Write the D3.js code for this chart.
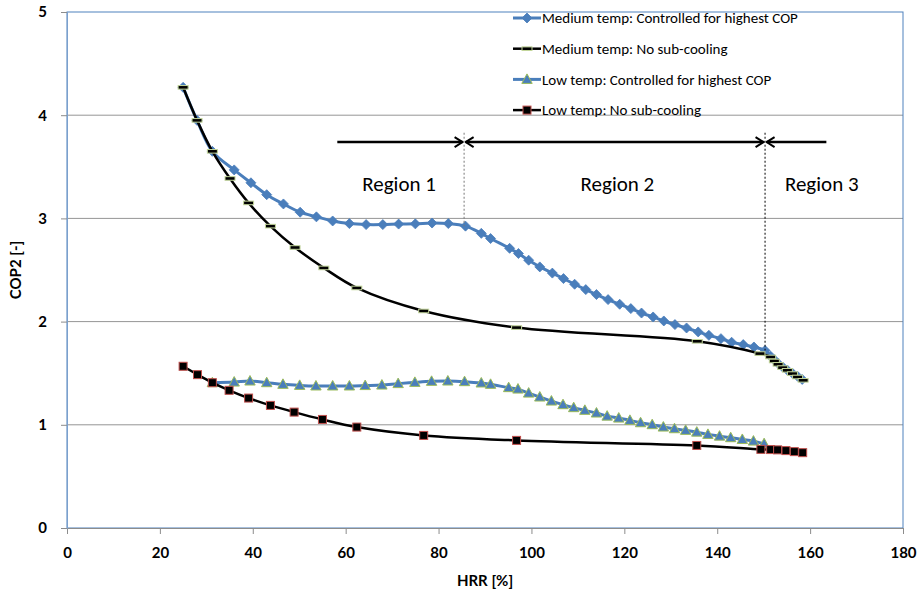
<!DOCTYPE html>
<html>
<head>
<meta charset="utf-8">
<script src="https://cdn.jsdelivr.net/npm/d3@7"></script>
<style>
  body { margin: 0; background: #fff; }
  text { font-family: Carlito, Calibri, Lato, sans-serif; }
  text.bold { font-family: Lato, Carlito, sans-serif; font-weight: 700; }
</style>
</head>
<body>
<div id="chart"></div>
<script>
// Medium temp: Controlled for highest COP
const medCtrlX = [25, 28, 31.3, 36.0, 39.6, 43.0, 46.6, 50.2, 53.7, 57.2, 60.8, 64.4, 68.0, 71.4, 75.0, 78.6, 82.1, 85.8, 89.2, 91.2, 95.3, 97.2, 99.4, 101.8, 104.5, 106.9, 109.3, 111.7, 114.0, 116.5, 119.0, 121.4, 123.7, 126.2, 128.5, 130.9, 133.4, 135.9, 138.2, 140.8, 143.1, 145.6, 147.9, 150.3, 151.5, 152.3, 153.1, 154.1, 155.1, 156.2, 157.3, 158.3];
const medCtrlY = [4.27, 3.95, 3.65, 3.47, 3.345, 3.23, 3.14, 3.06, 3.015, 2.975, 2.95, 2.94, 2.94, 2.945, 2.947, 2.955, 2.95, 2.925, 2.855, 2.805, 2.71, 2.66, 2.595, 2.53, 2.47, 2.417, 2.362, 2.31, 2.262, 2.213, 2.168, 2.126, 2.083, 2.045, 2.006, 1.971, 1.938, 1.90, 1.867, 1.835, 1.80, 1.777, 1.754, 1.72, 1.665, 1.63, 1.595, 1.56, 1.53, 1.50, 1.47, 1.44];

// Medium temp: No sub-cooling
const medNoX = [25, 28, 31.3, 35.1, 39.1, 43.8, 49.1, 55.3, 62.4, 76.8, 96.8, 135.7, 149.2, 151.5, 152.3, 153.1, 154.1, 155.1, 156.2, 157.3, 158.5];
const medNoY = [4.27, 3.95, 3.65, 3.387, 3.15, 2.925, 2.718, 2.52, 2.326, 2.103, 1.942, 1.809, 1.69, 1.657, 1.618, 1.586, 1.554, 1.528, 1.496, 1.463, 1.431];

// Low temp: Controlled for highest COP
const lowCtrlX = [31.3, 36.0, 39.4, 43.0, 46.5, 50.1, 53.6, 57.2, 60.8, 64.2, 67.8, 71.3, 74.9, 78.5, 82.0, 85.6, 89.2, 91.2, 95.1, 97.1, 99.4, 101.8, 104.3, 106.8, 109.1, 111.5, 114.0, 116.3, 118.8, 121.2, 123.5, 126.0, 128.4, 130.8, 133.2, 135.6, 138.0, 140.5, 142.9, 145.4, 147.8, 150.1];
const lowCtrlY = [1.408, 1.414, 1.424, 1.408, 1.392, 1.382, 1.376, 1.376, 1.376, 1.38, 1.385, 1.399, 1.411, 1.421, 1.424, 1.418, 1.405, 1.392, 1.36, 1.346, 1.307, 1.269, 1.23, 1.195, 1.166, 1.14, 1.114, 1.084, 1.065, 1.043, 1.02, 1.001, 0.978, 0.962, 0.946, 0.929, 0.907, 0.89, 0.875, 0.858, 0.842, 0.817];

// Low temp: No sub-cooling
const lowNoX = [25, 28.1, 31.3, 34.9, 39.1, 43.8, 48.9, 55.0, 62.4, 76.8, 96.8, 135.6, 149.4, 151.5, 153.0, 154.8, 156.6, 158.4];
const lowNoY = [1.567, 1.486, 1.408, 1.334, 1.259, 1.188, 1.123, 1.052, 0.978, 0.897, 0.849, 0.80, 0.762, 0.76, 0.757, 0.75, 0.74, 0.73];

const xTicks = [0, 20, 40, 60, 80, 100, 120, 140, 160, 180];
const yTicks = [0, 1, 2, 3, 4, 5];

const seriesNames = [
  'Medium temp: Controlled for highest COP',
  'Medium temp: No sub-cooling',
  'Low temp: Controlled for highest COP',
  'Low temp: No sub-cooling'
];

// region annotation: arrow ends and divider positions (HRR %)
const regionEdges = [58.2, 85.5, 150.3, 163.5];
const regionLabels = ['Region 1', 'Region 2', 'Region 3'];
const regionLabelX = [71.5, 118.5, 162.5];

const width = 922;
const height = 596;
const margin = { top: 12, right: 19, bottom: 68, left: 67 };

const zip = (xs, ys) => xs.map((x, i) => ({ x: x, y: ys[i] }));
const series = [
  { name: seriesNames[0], data: zip(medCtrlX, medCtrlY), color: '#4a7ebb', width: 3, marker: 'diamond' },
  { name: seriesNames[1], data: zip(medNoX, medNoY), color: '#000', width: 2.5, marker: 'dash' },
  { name: seriesNames[2], data: zip(lowCtrlX, lowCtrlY), color: '#4a7ebb', width: 3, marker: 'triangle' },
  { name: seriesNames[3], data: zip(lowNoX, lowNoY), color: '#000', width: 2.5, marker: 'square' }
];

const x_scale = d3.scaleLinear().domain([0, 180]).range([margin.left, width - margin.right]);
const y_scale = d3.scaleLinear().domain([0, 5]).range([height - margin.bottom, margin.top]);

const svg = d3.select('#chart').append('svg')
  .attr('width', width).attr('height', height)
  .attr('viewBox', [0, 0, width, height]);

// gridlines
svg.append('g').selectAll('line').data(yTicks.filter(d => d > 0 && d < 5)).join('line')
  .attr('x1', margin.left).attr('x2', width - margin.right)
  .attr('y1', d => y_scale(d)).attr('y2', d => y_scale(d))
  .attr('stroke', '#959595').attr('stroke-width', 1);

// plot border (top / right / left light blue)
svg.append('rect')
  .attr('x', margin.left).attr('y', margin.top)
  .attr('width', width - margin.left - margin.right)
  .attr('height', height - margin.top - margin.bottom)
  .attr('fill', 'none').attr('stroke', '#4f81bd').attr('stroke-width', 1);

// axes
const xAxis = svg.append('g')
  .attr('transform', `translate(0, ${height - margin.bottom})`)
  .call(d3.axisBottom(x_scale).tickValues(xTicks).tickFormat(d3.format('d')).tickSize(6).tickPadding(13));
const yAxis = svg.append('g')
  .attr('transform', `translate(${margin.left}, 0)`)
  .call(d3.axisLeft(y_scale).tickValues(yTicks).tickFormat(d3.format('d')).tickSize(6).tickPadding(14));
[xAxis, yAxis].forEach(a => {
  a.attr('font-size', 15).attr('font-family', null);
  a.select('.domain').attr('stroke', '#8c8c8c');
  a.selectAll('.tick line').attr('stroke', '#8c8c8c');
  a.selectAll('text').attr('class', 'bold').attr('fill', '#000');
});
yAxis.select('.domain').attr('stroke', '#7ba0cd');

svg.append('text').attr('class', 'bold')
  .attr('x', x_scale(90)).attr('y', 586)
  .attr('text-anchor', 'middle').attr('font-size', 15)
  .text('HRR [%]');
svg.append('text').attr('class', 'bold')
  .attr('transform', `translate(21, ${y_scale(2.5)}) rotate(-90)`)
  .attr('text-anchor', 'middle').attr('font-size', 15)
  .text('COP2 [-]');

// markers
const drawMarker = (g, type) => {
  if (type === 'diamond') {
    g.append('path').attr('d', 'M0,-5L5,0L0,5L-5,0Z').attr('fill', '#4a7ebb').attr('stroke', '#4a7ebb').attr('stroke-width', 0.8);
  } else if (type === 'dash') {
    g.append('rect').attr('x', -5).attr('y', -1.8).attr('width', 10).attr('height', 3.6)
      .attr('fill', '#000').attr('stroke', '#c3d69b').attr('stroke-width', 1);
  } else if (type === 'triangle') {
    g.append('path').attr('d', 'M0,-5.5L5.2,4L-5.2,4Z').attr('fill', '#4a7ebb').attr('stroke', '#9bbb59').attr('stroke-width', 1);
  } else if (type === 'square') {
    g.append('rect').attr('x', -4).attr('y', -4).attr('width', 8).attr('height', 8)
      .attr('fill', '#000').attr('stroke', '#c0504d').attr('stroke-width', 1);
  }
};

const line = d3.line()
  .x(d => x_scale(d.x))
  .y(d => y_scale(d.y))
  .curve(d3.curveCatmullRom.alpha(0.5));

series.forEach(s => {
  svg.append('path').datum(s.data)
    .attr('fill', 'none').attr('stroke', s.color).attr('stroke-width', s.width)
    .attr('stroke-linejoin', 'round')
    .attr('d', line);
  svg.append('g').selectAll('g').data(s.data).join('g')
    .attr('transform', d => `translate(${x_scale(d.x)}, ${y_scale(d.y)})`)
    .each(function () { drawMarker(d3.select(this), s.marker); });
});

// legend
const legend = svg.append('g');
series.forEach((s, i) => {
  const ly = 18 + i * 30.7;
  legend.append('line').attr('x1', 513).attr('x2', 541).attr('y1', ly).attr('y2', ly)
    .attr('stroke', s.color).attr('stroke-width', s.width);
  const m = legend.append('g').attr('transform', `translate(527, ${ly})`);
  drawMarker(m, s.marker);
  legend.append('text').attr('x', 542).attr('y', ly).attr('dy', '0.35em')
    .attr('font-size', 15).text(s.name);
});

// region annotations
svg.append('defs').append('marker')
  .attr('id', 'arrow').attr('viewBox', '0 -6 10 12')
  .attr('refX', 9).attr('refY', 0)
  .attr('markerWidth', 10).attr('markerHeight', 12)
  .attr('markerUnits', 'userSpaceOnUse')
  .attr('orient', 'auto-start-reverse')
  .append('path').attr('d', 'M1,-5L9,0L1,5')
  .attr('fill', 'none').attr('stroke', '#000').attr('stroke-width', 2);

const arrowY = y_scale(3.74);
svg.append('line')
  .attr('x1', x_scale(regionEdges[0])).attr('x2', x_scale(regionEdges[1]) - 1.5)
  .attr('y1', arrowY).attr('y2', arrowY)
  .attr('stroke', '#000').attr('stroke-width', 2.5).attr('marker-end', 'url(#arrow)');
svg.append('line')
  .attr('x1', x_scale(regionEdges[1]) + 1.5).attr('x2', x_scale(regionEdges[2]) - 1.5)
  .attr('y1', arrowY).attr('y2', arrowY)
  .attr('stroke', '#000').attr('stroke-width', 2.5)
  .attr('marker-start', 'url(#arrow)').attr('marker-end', 'url(#arrow)');
svg.append('line')
  .attr('x1', x_scale(regionEdges[3])).attr('x2', x_scale(regionEdges[2]) + 1.5)
  .attr('y1', arrowY).attr('y2', arrowY)
  .attr('stroke', '#000').attr('stroke-width', 2.5).attr('marker-end', 'url(#arrow)');

// dotted dividers down to the medium-temp controlled curve
[[regionEdges[1], 2.925, '#777'], [regionEdges[2], 1.72, '#000']].forEach(([v, yEnd, c]) => {
  svg.append('line')
    .attr('x1', x_scale(v)).attr('x2', x_scale(v))
    .attr('y1', y_scale(3.83)).attr('y2', y_scale(yEnd))
    .attr('stroke', c).attr('stroke-width', 1).attr('stroke-dasharray', '2,2');
});

svg.append('g').selectAll('text').data(regionLabels).join('text')
  .attr('x', (d, i) => x_scale(regionLabelX[i]))
  .attr('y', y_scale(3.34)).attr('dy', '0.35em')
  .attr('text-anchor', 'middle').attr('font-size', 21)
  .text(d => d);
</script>
</body>
</html>
